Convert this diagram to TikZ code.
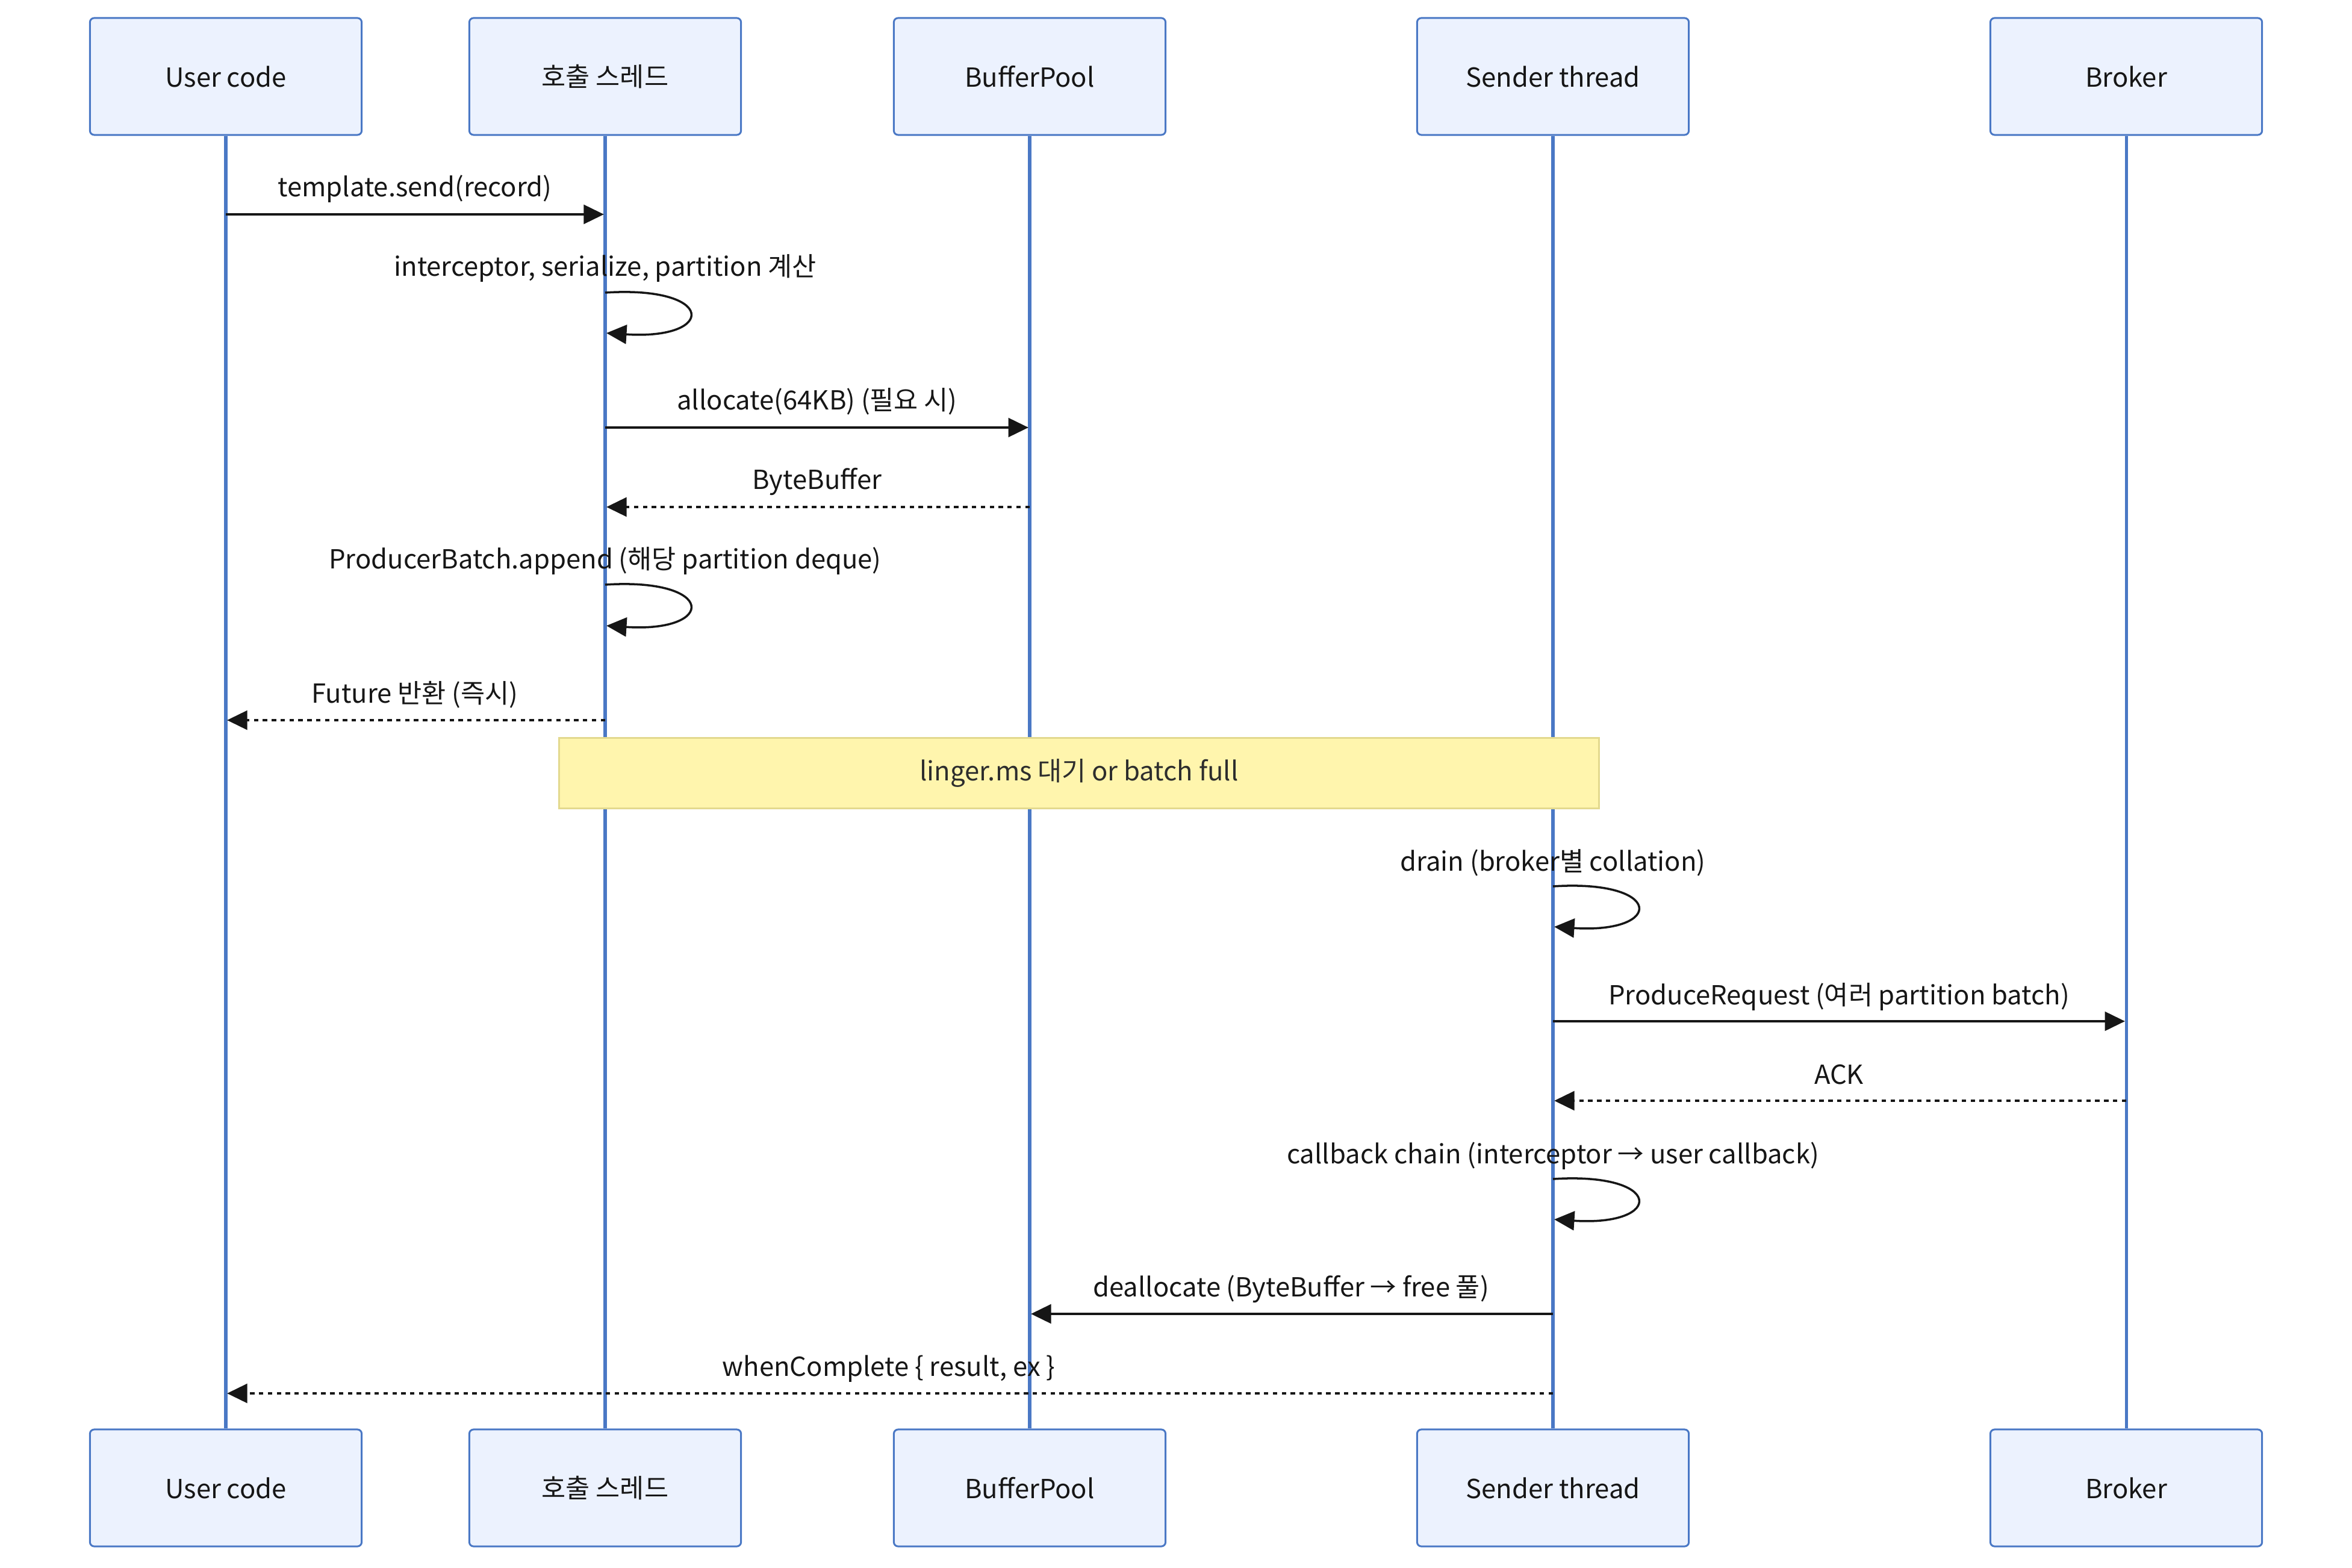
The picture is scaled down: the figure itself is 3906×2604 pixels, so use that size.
\documentclass[tikz,border=0pt]{standalone}
\usepackage{fontspec}
\setmainfont{Noto Sans CJK KR}
\usetikzlibrary{arrows.meta}
\definecolor{actfill}{HTML}{ECF2FE}
\definecolor{actline}{HTML}{4A78C5}
\definecolor{notefill}{HTML}{FFF5AD}
\definecolor{noteline}{HTML}{E3D98E}
\definecolor{txt}{HTML}{161616}
\begin{document}
\begin{tikzpicture}[x=0.01cm,y=-0.01cm,
  font=\fontsize{12.4}{15}\selectfont,
  actor/.style={draw=actline, fill=actfill, line width=0.85pt, rounded corners=2pt,
    minimum width=4.51cm, minimum height=1.94cm, inner sep=0pt, text=txt},
  life/.style={draw=actline, line width=1.45pt},
  msg/.style={draw=txt, line width=1pt, -{Triangle[length=9.5pt,width=9pt]}, shorten >=0.6pt},
  reply/.style={msg, dash pattern=on 2.1pt off 2.1pt},
  lbl/.style={text=txt, inner sep=0pt, anchor=base},
  notebox/.style={draw=noteline, fill=notefill, line width=0.7pt,
    minimum width=17.26cm, minimum height=1.17cm, inner sep=0pt, text=txt!90}]
\useasboundingbox (0,0) rectangle (3906,2604);
% actors top
\node[actor] (a1) at (375,127) {User code};
\node[actor] (a2) at (1005,127) {호출 스레드};
\node[actor] (a3) at (1710,127) {BufferPool};
\node[actor] (a4) at (2579,127) {Sender thread};
\node[actor] (a5) at (3531,127) {Broker};
% actors bottom
\node[actor] (b1) at (375,2471) {User code};
\node[actor] (b2) at (1005,2471) {호출 스레드};
\node[actor] (b3) at (1710,2471) {BufferPool};
\node[actor] (b4) at (2579,2471) {Sender thread};
\node[actor] (b5) at (3531,2471) {Broker};
% lifelines
\foreach \i in {1,...,5} {\draw[life] (a\i) -- (b\i);}
% 1
\node[lbl] (l1) at (689,327) {template.send(record)};
\draw[msg] (a1 |- 0,356) -- (a2 |- 0,356);
% 2
\node[lbl] (l2) at (1005,459) {interceptor, serialize, partition 계산};
\draw[msg] (a2 |- 0,486) .. controls +(185,-12) and +(185,12) .. (a2 |- 0,553);
% 3
\node[lbl] (l3) at (1357,681) {allocate(64KB) (필요 시)};
\draw[msg] (a2 |- 0,710) -- (a3 |- 0,710);
% 4
\node[lbl] (l4) at (1357,813) {ByteBuffer};
\draw[reply] (a3 |- 0,842) -- (a2 |- 0,842);
% 5
\node[lbl] (l5) at (1005,945) {ProducerBatch.append (해당 partition deque)};
\draw[msg] (a2 |- 0,971) .. controls +(185,-12) and +(185,12) .. (a2 |- 0,1039);
% 6
\node[lbl] (l6) at (689,1167) {Future 반환 (즉시)};
\draw[reply] (a2 |- 0,1196) -- (a1 |- 0,1196);
% note
\node[notebox] (n1) at (1792,1284) {linger.ms 대기 or batch full};
% 8
\node[lbl] (l8) at (2579,1446) {drain (broker별 collation)};
\draw[msg] (a4 |- 0,1472) .. controls +(185,-12) and +(185,12) .. (a4 |- 0,1539);
% 9
\node[lbl] (l9) at (3054,1668) {ProduceRequest (여러 partition batch)};
\draw[msg] (a4 |- 0,1696) -- (a5 |- 0,1696);
% 10
\node[lbl] (l10) at (3054,1800) {ACK};
\draw[reply] (a5 |- 0,1828) -- (a4 |- 0,1828);
% 11
\node[lbl] (l11) at (2579,1932) {callback chain (interceptor → user callback)};
\draw[msg] (a4 |- 0,1958) .. controls +(185,-12) and +(185,12) .. (a4 |- 0,2025);
% 12
\node[lbl] (l12) at (2144,2153) {deallocate (ByteBuffer → free 풀)};
\draw[msg] (a4 |- 0,2182) -- (a3 |- 0,2182);
% 13
\node[lbl] (l13) at (1476,2285) {whenComplete \{ result, ex \}};
\draw[reply] (a4 |- 0,2314) -- (a1 |- 0,2314);
\end{tikzpicture}
\end{document}
